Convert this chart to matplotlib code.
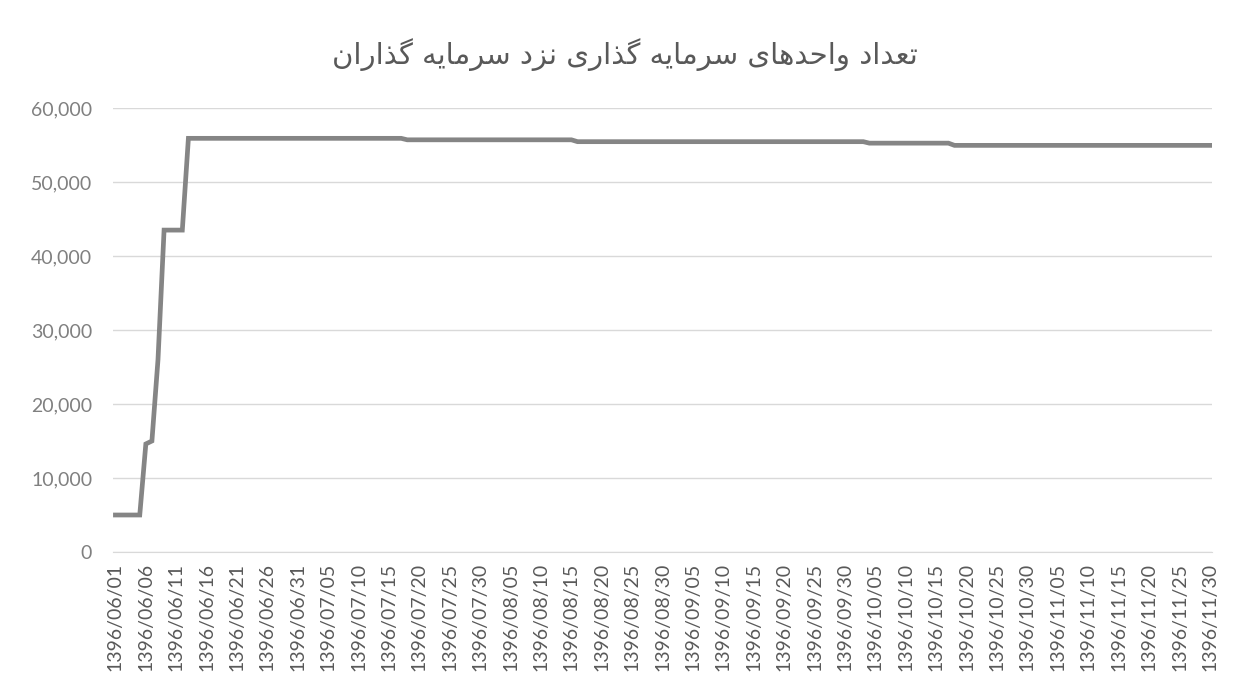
import matplotlib
matplotlib.use("Agg")
import matplotlib.pyplot as plt
from matplotlib.ticker import FuncFormatter

# Persian calendar, 1396/06/01 .. 1396/11/30 (month 6 has 31 days, the rest 30)
months = [6, 7, 8, 9, 10, 11]
month_days = [31, 30, 30, 30, 30, 30]

# vertices of the line (date, units held by investors)
point_dates = ["06/01", "06/05", "06/06", "06/07", "06/08", "06/09",
               "06/12", "06/13", "07/17", "07/18", "08/15", "08/16",
               "10/03", "10/04", "10/17", "10/18", "11/30"]
point_values = [5000, 5000, 14600, 15000, 26000, 43500,
                43500, 55900, 55900, 55700, 55700, 55450,
                55450, 55250, 55250, 54950, 54950]

title = "تعداد واحدهای سرمایه گذاری نزد سرمایه گذاران"

# matplotlib does no Arabic shaping, so pick the joined glyph forms by hand
# letter: (isolated, final, initial, medial); 2-tuples join on the right only
forms = {
    "ا": ("\uFE8D", "\uFE8E"),
    "د": ("\uFEA9", "\uFEAA"),
    "ذ": ("\uFEAB", "\uFEAC"),
    "ر": ("\uFEAD", "\uFEAE"),
    "ز": ("\uFEAF", "\uFEB0"),
    "و": ("\uFEED", "\uFEEE"),
    "ت": ("\uFE95", "\uFE96", "\uFE97", "\uFE98"),
    "ع": ("\uFEC9", "\uFECA", "\uFECB", "\uFECC"),
    "ح": ("\uFEA1", "\uFEA2", "\uFEA3", "\uFEA4"),
    "ه": ("\uFEE9", "\uFEEA", "\uFEEB", "\uFEEC"),
    "س": ("\uFEB1", "\uFEB2", "\uFEB3", "\uFEB4"),
    "م": ("\uFEE1", "\uFEE2", "\uFEE3", "\uFEE4"),
    "ن": ("\uFEE5", "\uFEE6", "\uFEE7", "\uFEE8"),
    "ی": ("\uFBFC", "\uFBFD", "\uFBFE", "\uFBFF"),
    "گ": ("\uFB92", "\uFB93", "\uFB94", "\uFB95"),
}


def shape(text):
    out = []
    for i, c in enumerate(text):
        if c not in forms:
            out.append(c)
            continue
        prev = text[i - 1] if i > 0 else " "
        nxt = text[i + 1] if i + 1 < len(text) else " "
        join_prev = prev in forms and len(forms[prev]) == 4
        join_next = len(forms[c]) == 4 and nxt in forms
        f = forms[c]
        if join_prev and join_next:
            out.append(f[3])
        elif join_prev:
            out.append(f[1])
        elif join_next:
            out.append(f[2])
        else:
            out.append(f[0])
    return "".join(reversed(out))


all_dates = []
for m, n in zip(months, month_days):
    for d in range(1, n + 1):
        all_dates.append("%02d/%02d" % (m, d))

xs = [all_dates.index(d) for d in point_dates]
tick_pos = list(range(0, len(all_dates), 5))
tick_labels = ["1396/" + all_dates[i] for i in tick_pos]

fig = plt.figure(figsize=(12.37, 6.99), dpi=100)
ax = fig.add_axes([113 / 1237, 1 - 552 / 699, 1099 / 1237, 444 / 699])

ax.plot(xs, point_values, color="#858585", linewidth=3.4, solid_joinstyle="miter")

ax.set_xlim(-0.4, 180.35)
ax.set_ylim(0, 60000)
ax.set_yticks(range(0, 60001, 10000))
ax.yaxis.set_major_formatter(FuncFormatter(lambda v, p: "{:,.0f}".format(v)))
ax.set_xticks(tick_pos)
ax.set_xticklabels(tick_labels, rotation=90, fontsize=14, color="#595959",
                   family="Lato")
for lab in ax.get_yticklabels():
    lab.set_family("Lato")
ax.tick_params(axis="y", length=0, pad=15, labelsize=14, labelcolor="#808080")
ax.tick_params(axis="x", length=0, pad=8)

ax.grid(axis="y", color="#d9d9d9", linewidth=1)
ax.set_axisbelow(True)
for s in ["left", "right", "top"]:
    ax.spines[s].set_visible(False)
ax.spines["bottom"].set_color("#d9d9d9")

fig.text(0.505, 1 - 55 / 699, shape(title), ha="center", va="center",
         fontsize=21, color="#595959", family=["DejaVu Sans", "Noto Sans"])

fig.savefig("out.png", dpi=100)
